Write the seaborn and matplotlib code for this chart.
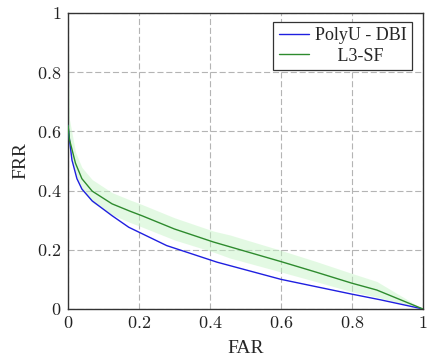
import matplotlib
matplotlib.use("Agg")
import matplotlib.pyplot as plt
import pandas as pd
import seaborn as sns

# FAR / FRR curves
far_polyu = [0.0, 0.004, 0.011, 0.025, 0.039, 0.068, 0.124, 0.171, 0.278, 0.42, 0.6, 0.8, 0.88, 1.0]
frr_polyu = [0.62, 0.572, 0.503, 0.44, 0.405, 0.365, 0.315, 0.276, 0.214, 0.158, 0.10, 0.05, 0.031, 0.0]

far_l3 = [0.0, 0.004, 0.021, 0.039, 0.068, 0.124, 0.175, 0.208, 0.3, 0.41, 0.456, 0.6, 0.7, 0.8, 0.87, 1.0]
frr_l3 = [0.62, 0.572, 0.492, 0.44, 0.398, 0.355, 0.33, 0.315, 0.27, 0.226, 0.21, 0.16, 0.124, 0.087, 0.064, 0.0]
frr_l3_hi = [1.0, 0.64, 0.53, 0.478, 0.437, 0.393, 0.368, 0.353, 0.308, 0.263, 0.25, 0.198, 0.16, 0.12, 0.093, 0.0]
frr_l3_lo = [0.58, 0.53, 0.455, 0.402, 0.36, 0.318, 0.292, 0.277, 0.233, 0.192, 0.172, 0.125, 0.092, 0.058, 0.04, 0.0]

ticks = [0, 0.2, 0.4, 0.6, 0.8, 1]

sns.set_style("white")
plt.rcParams["font.family"] = ["Liberation Serif", "DejaVu Serif"]
plt.rcParams["mathtext.fontset"] = "cm"

df = pd.concat(
    [
        pd.DataFrame({"FAR": far_polyu, "FRR": frr_polyu, "method": "PolyU - DBI"}),
        pd.DataFrame({"FAR": far_l3, "FRR": frr_l3, "method": "     L3-SF"}),
    ],
    ignore_index=True,
)

fig = plt.figure(figsize=(4.28, 3.58), dpi=100)
ax = fig.add_axes([0.159, 0.137, 0.829, 0.827])

# shaded spread around the L3-SF curve
ax.fill_between(far_l3, frr_l3_lo, frr_l3_hi, color="#c8f5c8", alpha=0.5, linewidth=0, zorder=1)

sns.lineplot(
    data=df, x="FAR", y="FRR", hue="method",
    palette=["#1f1fe0", "#2e8b2e"], linewidth=1.0,
    estimator=None, sort=False, ax=ax, zorder=3,
)

ax.set_xlim(0, 1)
ax.set_ylim(0, 1)
ax.set_xticks(ticks)
ax.set_yticks(ticks)
ax.set_xticklabels([f"${t:g}$" for t in ticks], fontsize=13)
ax.set_yticklabels([f"${t:g}$" for t in ticks], fontsize=13)
ax.tick_params(axis="x", length=0, pad=4, colors="#222222")
ax.tick_params(axis="y", length=0, pad=5, colors="#222222")
ax.grid(True, linestyle=(0, (5.5, 2.5)), color="#b4b4b4", linewidth=0.8, zorder=0)
ax.set_axisbelow(True)
for s in ax.spines.values():
    s.set_color("#333333")
    s.set_linewidth(1.0)

ax.set_xlabel("FAR", fontsize=14, labelpad=6)
ax.set_ylabel("FRR", fontsize=14, labelpad=5)

leg = ax.legend(
    loc="upper right", bbox_to_anchor=(0.969, 0.97), fontsize=13,
    frameon=True, fancybox=False, edgecolor="#333333", framealpha=1,
    handlelength=1.7, handletextpad=0.3, borderpad=0.3, labelspacing=0.2,
    borderaxespad=0,
)
leg.get_frame().set_linewidth(0.9)

fig.savefig("out.png", dpi=100)
